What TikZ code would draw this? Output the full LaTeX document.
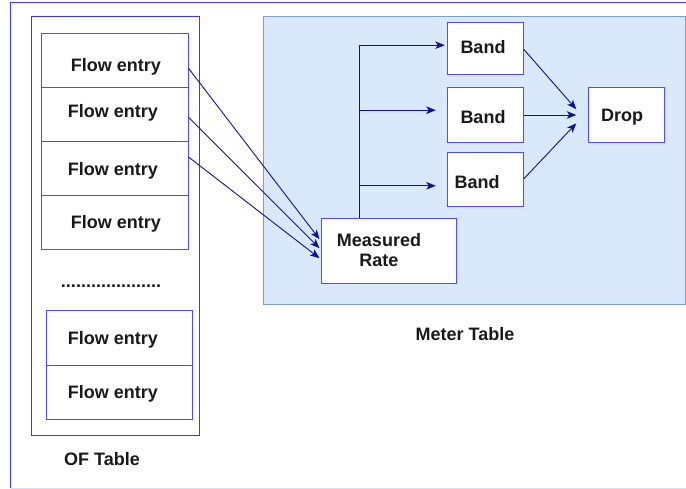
\documentclass[tikz,border=0pt]{standalone}
\usepackage{fontspec}
\setmainfont{Liberation Sans}
\usetikzlibrary{arrows.meta,calc}
\definecolor{boxblue}{HTML}{4C4CFF}
\definecolor{ofblue}{HTML}{3A3AFF}
\definecolor{arrblue}{HTML}{10109A}
\definecolor{meterfill}{HTML}{DAE8FC}
\definecolor{meterline}{HTML}{7C9ED0}
\definecolor{lightline}{HTML}{DCDCF4}
\tikzset{
  box/.style={draw=boxblue, line width=1pt, fill=white, rectangle, inner sep=0pt},
  oftable/.style={box, draw=ofblue, fill=none},
  lbl/.style={font=\fontsize{18}{20.5}\selectfont\bfseries, inner sep=0pt, align=center, text=black!90},
  arr/.style={draw=arrblue, line width=0.9pt, -{Stealth[length=9.5pt,width=7.5pt,inset=2.5pt]}},
}
\begin{document}
\begin{tikzpicture}[x=1pt,y=-1pt]
\useasboundingbox (0,0) rectangle (686,489);
% outer frame
\draw[draw=ofblue, line width=1pt] (10.5,488) -- (10.5,2.5) -- (686,2.5);
\draw[draw=lightline, line width=1pt] (10.5,488.5) -- (686,488.5);
% OF table
\node[oftable, minimum width=168pt, minimum height=419pt] (oft) at (115.5,226) {};
\node[lbl] (oflbl) at (102,459) {OF Table};
% flow entries top group
\node[box, minimum width=146.5pt, minimum height=54.5pt] (e1) at (114.75,60.75) {};
\node[lbl] at (116,67) {Flow entry};
\node[box, minimum width=146.5pt, minimum height=54pt] (e2) at (114.75,115) {};
\node[lbl] at (113,113) {Flow entry};
\node[box, minimum width=146.5pt, minimum height=54pt] (e3) at (114.75,169) {};
\node[lbl] at (113,171) {Flow entry};
\node[box, minimum width=146.5pt, minimum height=54pt] (e4) at (114.75,223) {};
\node[lbl] at (116,224) {Flow entry};
\node[lbl] (dots) at (111,286) {....................};
% lower group
\node[box, minimum width=146.5pt, minimum height=54.3pt] (e5) at (119.25,337.85) {};
\node[lbl] at (113,340) {Flow entry};
\node[box, minimum width=146.5pt, minimum height=54pt] (e6) at (119.25,392) {};
\node[lbl] at (113,394) {Flow entry};
% meter table
\node[draw=meterline, fill=meterfill, line width=1pt, minimum width=421.7pt, minimum height=288.7pt, inner sep=0pt] (mt) at (474.15,160.65) {};
\node[lbl] (mtlbl) at (465,334) {Meter Table};
% bands
\node[box, minimum width=76pt, minimum height=52.3pt] (b1) at (485.3,48.85) {};
\node[lbl] at (483,47) {Band};
\node[box, minimum width=76pt, minimum height=54.6pt] (b2) at (485.3,115) {};
\node[lbl] at (483,117) {Band};
\node[box, minimum width=76pt, minimum height=54.3pt] (b3) at (485.3,179.85) {};
\node[lbl] at (477,182) {Band};
\node[box, minimum width=75.7pt, minimum height=54.3pt] (drop) at (626.15,115) {};
\node[lbl] at (622,117) {Drop};
% measured rate
\node[box, minimum width=135.7pt, minimum height=65pt] (mr) at (388.85,251.2) {};
\node[lbl] at (379,250) {Measured\\[-1pt]Rate};
% trunk
\coordinate (t) at ($(mr.north west)+(39,0)$);
\coordinate (t1) at ($(t)+(0,-173)$);
\coordinate (t2) at ($(t)+(0,-108)$);
\coordinate (t3) at ($(t)+(0,-32.4)$);
\draw[draw=arrblue, line width=0.9pt] (t) -- (t1);
\draw[arr] (t1) -- ($(b1.west |- t1)+(-2,0)$);
\draw[arr] (t2) -- ($(b2.west |- t2)+(-11,0)$);
\draw[arr] (t3) -- ($(b3.west |- t3)+(-11,0)$);
% bands to drop
\draw[arr] ($(b1.east)+(0,0.5)$) -- ($(drop.west)+(-11.5,-5.7)$);
\draw[arr] (b2.east) -- ($(drop.west)+(-11.5,0)$);
\draw[arr] ($(b3.east)+(0,-1)$) -- ($(drop.west)+(-11.5,8.3)$);
% flow entries to measured rate
\draw[arr] ($(e1.east)+(0,7.5)$) -- ($(mr.west)+(-1,-12)$);
\draw[arr] ($(e2.east)+(0,2.3)$) -- ($(mr.west)+(-1,-3)$);
\draw[arr] ($(e3.east)+(0,-12)$) -- ($(mr.west)+(-1,7)$);
\end{tikzpicture}
\end{document}
